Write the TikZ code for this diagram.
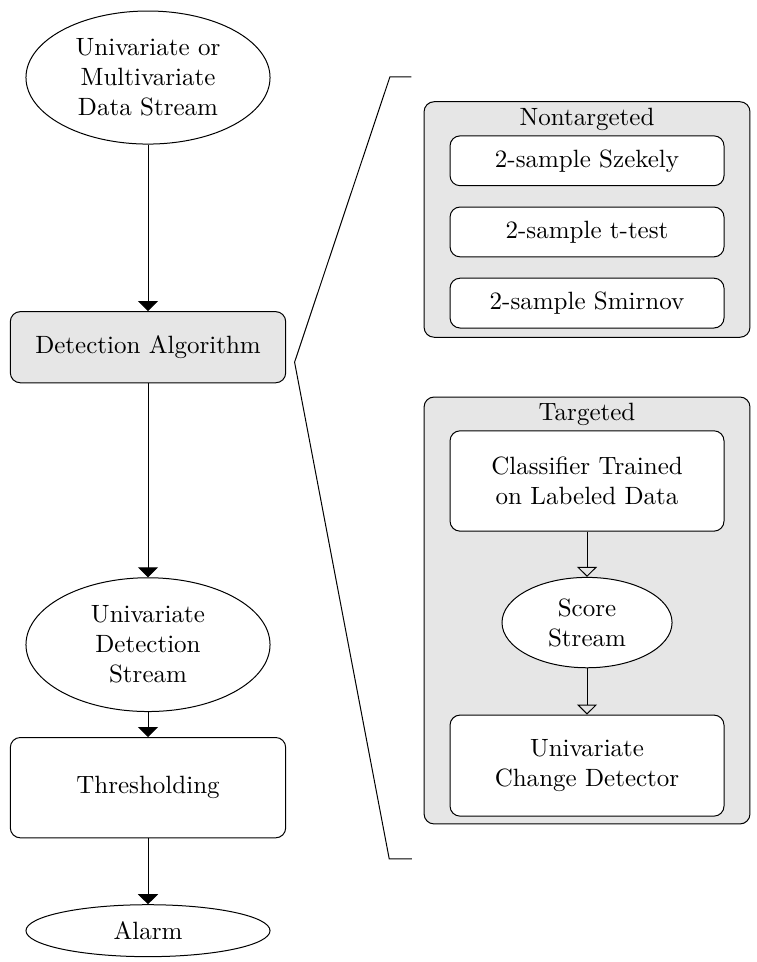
\documentclass[tikz,border=0pt]{standalone}
\usepackage{xcolor}
\usepackage{tikz}
\usetikzlibrary{shapes.geometric,arrows.meta}
\definecolor{groupGray}{RGB}{230, 230, 230}
\definecolor{boxGray}{RGB}{230, 230, 230}
\tikzset{
  procBox/.style={draw, rounded corners, align=center, inner sep=1pt},
  streamEllipse/.style={draw, ellipse, align=center, inner sep=1pt},
  groupBox/.style={draw, fill=groupGray, rounded corners, inner sep=0pt},
  innerBox/.style={draw, fill=white, rounded corners, align=center, inner sep=1pt, minimum width=3.85cm},
  flowArrow/.style={-{Triangle[width=8pt,length=4pt]}},
  openArrow/.style={-{Triangle[open,width=8pt,length=4pt]}}
}

\begin{document}
\begin{tikzpicture}
\useasboundingbox (0,0) rectangle (10.63,13.52);
% Main pipeline
\node[streamEllipse, minimum width=3.43cm, minimum height=1.87cm] (dataStream) at (2.08,12.43) {Univariate or\\Multivariate\\Data Stream};
\node[procBox, fill=boxGray, minimum width=3.87cm, minimum height=1.00cm] (detAlgo) at (2.08,8.64) {Detection Algorithm};
\node[streamEllipse, minimum width=3.43cm, minimum height=1.88cm] (detStream) at (2.08,4.46) {Univariate\\Detection\\Stream};
\node[procBox, minimum width=3.87cm, minimum height=1.41cm] (thresh) at (2.08,2.45) {Thresholding};
\node[streamEllipse, minimum width=3.43cm, minimum height=0.73cm] (alarm) at (2.08,0.44) {Alarm};
\draw[flowArrow] (dataStream) -- (detAlgo);
\draw[flowArrow] (detAlgo) -- (detStream);
\draw[flowArrow] (detStream) -- (thresh);
\draw[flowArrow] (thresh) -- (alarm);

% Bracket
\coordinate (brTop) at (5.78,12.44);
\coordinate (brTip) at (4.14,8.43);
\coordinate (brBot) at (5.79,1.45);
\draw (brTop) -- (5.48,12.44) -- (brTip) -- (5.47,1.45) -- (brBot);

% Nontargeted group
\node[groupBox, minimum width=4.58cm, minimum height=3.31cm] (nonGroup) at (8.25,10.435) {};
\node (nonLabel) at (8.25,11.84) {Nontargeted};
\node[innerBox, minimum height=0.70cm] (szekely) at (8.25,11.26) {2-sample Szekely};
\node[innerBox, minimum height=0.70cm] (ttest) at (8.25,10.26) {2-sample t-test};
\node[innerBox, minimum height=0.70cm] (smirnov) at (8.25,9.26) {2-sample Smirnov};

% Targeted group
\node[groupBox, minimum width=4.58cm, minimum height=6.00cm] (tarGroup) at (8.25,4.94) {};
\node (tarLabel) at (8.25,7.69) {Targeted};
\node[innerBox, minimum height=1.41cm] (classifier) at (8.25,6.76) {Classifier Trained\\on Labeled Data};
\node[streamEllipse, fill=white, minimum width=2.39cm, minimum height=1.27cm] (scoreStream) at (8.25,4.77) {Score\\Stream};
\node[innerBox, minimum height=1.42cm] (changeDet) at (8.25,2.76) {Univariate\\Change Detector};
\draw[openArrow] (classifier) -- (scoreStream);
\draw[openArrow] (scoreStream) -- (changeDet);
\end{tikzpicture}
\end{document}
